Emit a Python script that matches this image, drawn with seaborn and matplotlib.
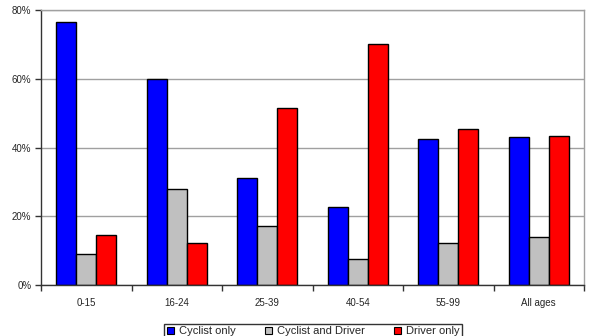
import matplotlib
matplotlib.use("Agg")
import matplotlib.pyplot as plt
import seaborn as sns
import pandas as pd
import numpy as np
from matplotlib.patches import Patch

age_groups = ["0-15", "16-24", "25-39", "40-54", "55-99", "All ages"]
cyclist_only = [76.5, 60.0, 31.1, 22.7, 42.6, 43.0]
cyclist_and_driver = [8.9, 27.8, 17.2, 7.6, 12.1, 13.9]
driver_only = [14.5, 12.1, 51.5, 70.1, 45.4, 43.3]
series_names = ["Cyclist only", "Cyclist and Driver", "Driver only"]
series_colors = ["#0000FF", "#C0C0C0", "#FF0000"]
y_ticks = [0, 20, 40, 60, 80]

df = pd.DataFrame({
    "age": age_groups * 3,
    "share": cyclist_only + cyclist_and_driver + driver_only,
    "group": [n for n in series_names for _ in age_groups],
})

sns.set_theme(style="white")
plt.rcParams["font.family"] = ["Liberation Sans", "DejaVu Sans"]

fig = plt.figure(figsize=(5.97, 3.36), dpi=100)
ax = fig.add_axes([41 / 597, 51 / 336, 543 / 597, 275 / 336])

sns.barplot(data=df, x="age", y="share", hue="group", order=age_groups,
            hue_order=series_names, palette=series_colors, width=0.66,
            edgecolor="black", linewidth=1.0, saturation=1, legend=False, ax=ax)

ax.set_xlim(-0.5, len(age_groups) - 0.5)
ax.set_ylim(0, 80)
ax.set_yticks(y_ticks)
ax.set_yticklabels([f"{v}%" for v in y_ticks], fontsize=7)
ax.set_xticks(range(len(age_groups)))
ax.set_xticklabels(age_groups, fontsize=7)
ax.set_xticks(np.arange(-0.5, len(age_groups)), minor=True)
ax.tick_params(axis="x", which="major", length=0, pad=9)
ax.tick_params(axis="x", which="minor", length=4, width=1, color="#333333", direction="out", bottom=True)
ax.tick_params(axis="y", length=4, width=1, color="#333333", direction="out", left=True, pad=3)
ax.set_xlabel("")
ax.set_ylabel("")

ax.yaxis.grid(True, color="#A0A0A0", linewidth=1)
ax.set_axisbelow(True)
for side in ["top", "right"]:
    ax.spines[side].set_color("#A0A0A0")
    ax.spines[side].set_linewidth(1)
for side in ["left", "bottom"]:
    ax.spines[side].set_color("#333333")
    ax.spines[side].set_linewidth(1)

handles = [Patch(facecolor=c, edgecolor="black", linewidth=0.8) for c in series_colors]
fig.legend(handles, series_names, loc="upper center", ncol=3,
           bbox_to_anchor=(313 / 597, 1 - 318 / 336), frameon=True, fontsize=8,
           handlelength=0.7, handleheight=0.7, handletextpad=0.4, columnspacing=2.6,
           borderpad=0.25, fancybox=False, edgecolor="black")

fig.savefig("out.png", dpi=100)
